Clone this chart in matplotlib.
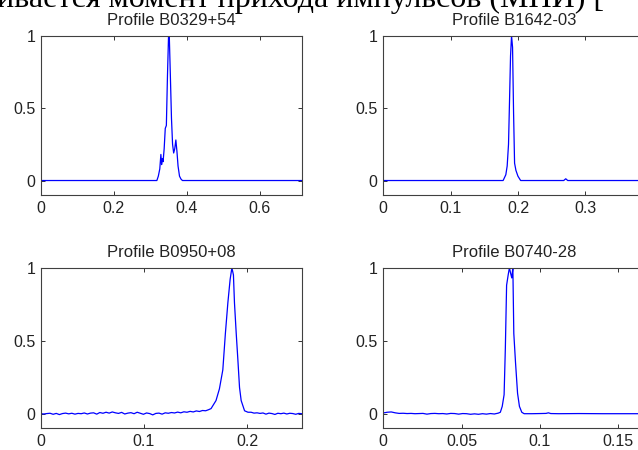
import numpy as np
import matplotlib.pyplot as plt
from matplotlib.ticker import FuncFormatter

plt.rcParams['font.family'] = ['Liberation Sans', 'DejaVu Sans']

# Профиль B0329+54 (период 0.7145 с)
t_0329 = [0, 0.318, 0.322, 0.326, 0.329, 0.331, 0.333, 0.335, 0.338, 0.341, 0.344, 0.347, 0.350,
          0.352, 0.355, 0.358, 0.361, 0.364, 0.367, 0.370, 0.373, 0.376, 0.380, 0.384, 0.388, 0.7145]
a_0329 = [0, 0, 0.03, 0.08, 0.18, 0.11, 0.15, 0.13, 0.22, 0.36, 0.38, 0.72, 1.0,
          1.0, 0.72, 0.43, 0.25, 0.19, 0.22, 0.28, 0.20, 0.10, 0.03, 0.01, 0, 0]

# Профиль B1642-03 (период 0.3877 с)
t_1642 = [0, 0.178, 0.182, 0.184, 0.186, 0.1875, 0.189, 0.1905, 0.192, 0.1935, 0.195, 0.197,
          0.200, 0.204, 0.268, 0.271, 0.274, 0.3877]
a_1642 = [0, 0, 0.04, 0.10, 0.25, 0.55, 0.86, 1.0, 0.92, 0.47, 0.12, 0.07,
          0.03, 0, 0, 0.012, 0, 0]

# Профиль B0950+08 (период 0.2531 с): шум до импульса, импульс, шум после
a_0950_pre = [0.000, -0.002, 0.001, 0.003, -0.004, 0.002, -0.006, 0.001, 0.004, -0.001, 0.003,
              -0.003, 0.002, 0.000, 0.005, -0.002, 0.004, 0.006, -0.003, 0.008, 0.003, 0.010,
              0.004, 0.012, 0.006, 0.002, 0.009, -0.002, 0.004, 0.007, 0.000, 0.010, 0.003,
              -0.004, 0.005, 0.001, -0.008, 0.002, 0.004, -0.003, 0.006, 0.003, 0.008, 0.005,
              0.011, 0.006, 0.013, 0.010, 0.016, 0.012, 0.019, 0.015, 0.022, 0.020, 0.028]
t_0950_pk = [0.1652, 0.170, 0.1733, 0.1766, 0.1791, 0.1815, 0.1837, 0.1854, 0.1869, 0.1879,
             0.1896, 0.1912, 0.1928, 0.1944, 0.1977, 0.201]
a_0950_pk = [0.035, 0.09, 0.17, 0.30, 0.55, 0.76, 0.92, 1.0, 0.95, 0.76,
             0.55, 0.37, 0.18, 0.09, 0.02, 0.01]
a_0950_post = [0.010, 0.004, 0.006, 0.002, 0.005, -0.003, 0.004, 0.001, -0.005, 0.003,
               0.000, 0.004, -0.002, 0.003, 0.001, -0.004, 0.002, 0.000]

# Профиль B0740-28 (период 0.1668 с)
a_0740_pre = [0.005, 0.010, 0.012, 0.006, 0.002, 0.003, 0.001, 0.002, 0.000, 0.001, 0.002,
              -0.003, 0.001, 0.002, 0.000, 0.001, -0.002, 0.002, 0.001, -0.003, 0.001, 0.000,
              -0.004, -0.001, -0.004, 0.000, -0.003, 0.001, -0.002, 0.004]
t_0740_pk = [0.0748, 0.0760, 0.0772, 0.0780, 0.0788, 0.0798, 0.0806, 0.0814, 0.0821, 0.0828,
             0.0834, 0.0845, 0.0858, 0.0870, 0.0885, 0.0900]
a_0740_pk = [0.01, 0.05, 0.13, 0.45, 0.88, 0.95, 1.0, 0.96, 0.93, 1.0,
             0.55, 0.35, 0.14, 0.05, 0.01, 0.0]
t_0740_post = [0.095, 0.100, 0.104, 0.1055, 0.107, 0.112, 0.125, 0.140, 0.155, 0.1668]
a_0740_post = [0.0, 0.001, 0.002, 0.006, 0.001, 0.0, 0.001, 0.0, 0.0, 0.0]

# Склейка отсчётов (отсчёты шума идут с равным шагом)
t_0950 = np.concatenate([np.linspace(0, 0.163, len(a_0950_pre)), t_0950_pk,
                         np.linspace(0.204, 0.2531, len(a_0950_post))])
a_0950 = np.concatenate([a_0950_pre, a_0950_pk, a_0950_post])
t_0740 = np.concatenate([np.linspace(0, 0.0735, len(a_0740_pre)), t_0740_pk, t_0740_post])
a_0740 = np.concatenate([a_0740_pre, a_0740_pk, a_0740_post])

names = ['B0329+54', 'B1642-03', 'B0950+08', 'B0740-28']
periods = [0.7145, 0.3877, 0.2531, 0.1668]
xticks = [[0, 0.2, 0.4, 0.6], [0, 0.1, 0.2, 0.3], [0, 0.1, 0.2], [0, 0.05, 0.1, 0.15]]
profiles = [(t_0329, a_0329), (t_1642, a_1642), (t_0950, a_0950), (t_0740, a_0740)]

W, H = 638, 450
# положение осей в пикселях: слева, сверху, ширина, высота
boxes = [(40.7, 35.7, 261, 159.3), (383.3, 35.7, 261, 159.3),
         (40.7, 267.7, 261, 160.6), (383.3, 267.7, 261, 160.6)]

fig = plt.figure(figsize=(W / 100, H / 100), dpi=100)

# обрезанная строка текста сверху
fig.text(-0.004, 1 - 6.5 / H, 'ивается момент прихода импульсов (МПИ) [',
         family='Liberation Serif', fontsize=23, ha='left', va='baseline', color='black')

fmt = FuncFormatter(lambda v, p: '%g' % v)
for (t, a), name, per, xt, (x0, y0, w, h) in zip(profiles, names, periods, xticks, boxes):
    ax = fig.add_axes([x0 / W, 1 - (y0 + h) / H, w / W, h / H])
    ax.plot(t, a, color='#0000ff', lw=0.9)
    ax.set_xlim(0, per)
    ax.set_ylim(-0.1, 1)
    ax.set_xticks(xt)
    ax.set_yticks([0, 0.5, 1])
    ax.xaxis.set_major_formatter(fmt)
    ax.yaxis.set_major_formatter(fmt)
    ax.tick_params(direction='in', length=3, width=0.7, top=True, right=True,
                   labelsize=11.5, colors='#333333', labelcolor='#222222', pad=4)
    ax.tick_params(axis='x', pad=4)
    for s in ax.spines.values():
        s.set_color('#404040')
        s.set_linewidth(0.8)
    ax.set_title('Profile ' + name, fontsize=12, pad=8, color='#222222')

plt.savefig('out.png', dpi=100)
